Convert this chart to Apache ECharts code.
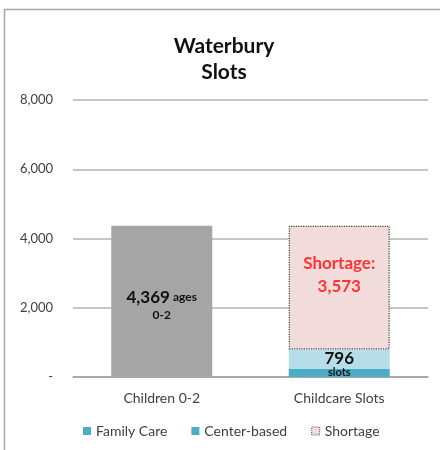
<!DOCTYPE html>
<html>
<head>
<meta charset="utf-8">
<script src="https://cdn.jsdelivr.net/npm/echarts@6/dist/echarts.min.js"></script>
<style>
  html, body { margin: 0; padding: 0; background: #fff; }
  #chart { width: 440px; height: 450px; }
</style>
</head>
<body>
<div id="chart"></div>
<script>
const categories = ['Children 0-2', 'Childcare Slots']
const children = [4369, '-']
const familyCare = ['-', 230]
const centerBased = ['-', 566]
const shortage = ['-', 3573]
const yTicks = [0, 2000, 4000, 6000, 8000]

const font = 'Lato, "Open Sans", sans-serif'
const textColor = '#404040'

function fmt(n) {
  return n.toLocaleString('en-US')
}

const chart = echarts.init(document.getElementById('chart'))

chart.setOption({
  animation: false,
  textStyle: { fontFamily: font },
  title: {
    text: 'Waterbury\nSlots',
    left: 219,
    top: 28,
    textAlign: 'center',
    textStyle: { fontSize: 21, fontWeight: 'bold', color: '#111', lineHeight: 26, fontFamily: font }
  },
  graphic: [{
    type: 'polyline',
    shape: { points: [[4.5, 450], [4.5, 9.5], [440, 9.5]] },
    style: { stroke: '#a6a6a6', lineWidth: 1.5, fill: null },
    silent: true
  }],
  legend: {
    bottom: 7,
    left: 78,
    itemWidth: 8,
    itemHeight: 8,
    itemGap: 24,
    textStyle: { fontSize: 14, color: textColor, fontFamily: font },
    data: [
      { name: 'Family Care', icon: 'rect', itemStyle: { color: '#4bacc6' } },
      { name: 'Center-based', icon: 'rect', itemStyle: { color: '#4bacc6' } },
      { name: 'Shortage', icon: 'rect', itemStyle: { color: '#f2dcdb', borderColor: '#555', borderWidth: 1, borderType: 'dotted' } }
    ]
  },
  grid: { left: 73, right: 12, top: 100, bottom: 73 },
  xAxis: {
    type: 'category',
    data: categories,
    axisTick: { show: false },
    axisLine: { lineStyle: { color: '#a0a0a0', width: 1.5 } },
    axisLabel: { color: textColor, fontSize: 14, margin: 14, fontFamily: font }
  },
  yAxis: {
    type: 'value',
    min: yTicks[0],
    max: yTicks[yTicks.length - 1],
    interval: 2000,
    axisLine: { show: false },
    axisTick: { show: false },
    splitLine: { lineStyle: { color: '#b3b3b3', width: 1.5 } },
    axisLabel: {
      color: textColor,
      fontSize: 13,
      margin: 20,
      fontFamily: font,
      formatter: v => v === 0 ? '-' : fmt(v)
    }
  },
  series: [
    {
      name: 'Children',
      type: 'bar',
      stack: 'total',
      barWidth: 101,
      data: children,
      itemStyle: { color: '#a5a5a5' },
      label: {
        show: true,
        position: 'inside',
        offset: [0, 4],
        formatter: p => '{big|' + fmt(p.value) + '} {small|ages}\n{small|0-2}',
        rich: {
          big: { fontSize: 17, fontWeight: 'bold', color: '#111', fontFamily: font, lineHeight: 19 },
          small: { fontSize: 12, fontWeight: 'bold', color: '#111', fontFamily: font, lineHeight: 16 }
        }
      }
    },
    {
      name: 'Family Care',
      type: 'bar',
      stack: 'total',
      data: familyCare,
      itemStyle: { color: '#4bacc6' }
    },
    {
      name: 'Center-based',
      type: 'bar',
      stack: 'total',
      data: centerBased,
      itemStyle: { color: '#b7dee8' },
      label: {
        show: true,
        position: 'inside',
        offset: [0, 5],
        formatter: p => '{big|' + fmt(familyCare[p.dataIndex] + centerBased[p.dataIndex]) + '}\n{small|slots}',
        rich: {
          big: { fontSize: 17, fontWeight: 'bold', color: '#111', fontFamily: font, lineHeight: 17 },
          small: { fontSize: 11, fontWeight: 'bold', color: '#111', fontFamily: font, lineHeight: 12 }
        }
      }
    },
    {
      name: 'Shortage',
      type: 'bar',
      stack: 'total',
      data: shortage,
      itemStyle: { color: '#f2dcdb', borderColor: '#404040', borderWidth: 1.2, borderType: 'dotted' },
      label: {
        show: true,
        position: 'insideTop',
        distance: 26,
        formatter: p => 'Shortage:\n' + fmt(p.value),
        color: '#ff3333',
        fontSize: 17,
        fontWeight: 'bold',
        lineHeight: 23,
        fontFamily: font
      }
    }
  ]
})
</script>
</body>
</html>
